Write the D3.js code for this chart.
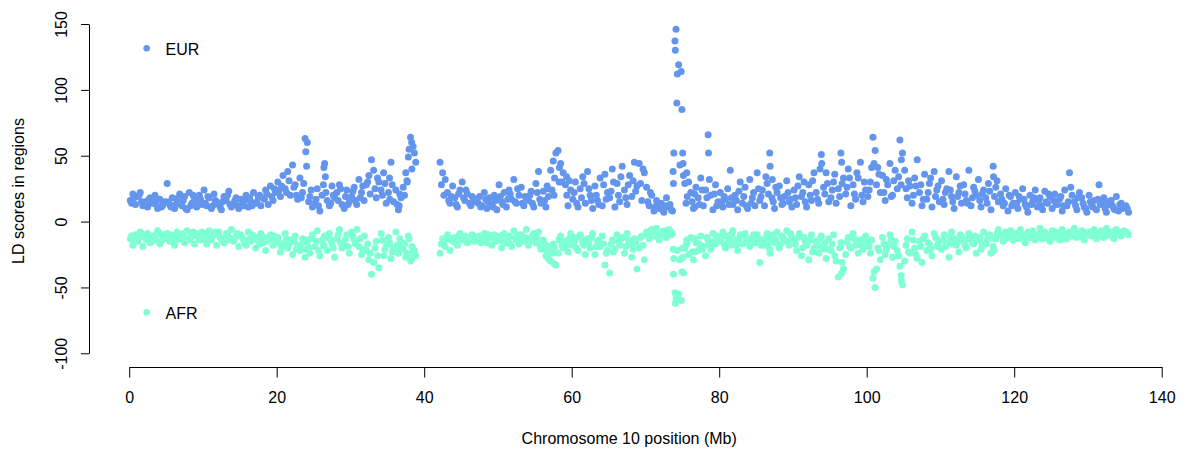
<!DOCTYPE html>
<html>
<head>
<meta charset="utf-8">
<script src="https://cdn.jsdelivr.net/npm/d3@7"></script>
<style>
  body { margin: 0; background: #fff; }
  svg { display: block; font-family: "Liberation Sans", Arial, Helvetica, sans-serif; }
  .axis path, .axis line { stroke: #000; stroke-width: 1; }
  .axis text { font-size: 16px; fill: #000; }
  .axis-title, .legend-label { font-size: 16px; fill: #000; }
</style>
</head>
<body>
<svg id="ld-plot" width="1186" height="450"></svg>
<script>
// region midpoints (Mb) on chromosome 10
const positions = [
  0.15,0.5,0.85,1.15,1.5,1.85,2.15,2.5,2.85,3.15,3.5,3.85,4.15,4.5,4.85,
  5.15,5.5,5.85,6.15,6.5,6.85,7.15,7.5,7.85,8.15,8.5,8.85,9.15,9.5,9.85,
  10.15,10.5,10.85,11.15,11.5,11.85,12.15,12.5,12.85,13.15,13.5,13.85,14.15,14.5,14.85,
  15.15,15.5,15.85,16.15,16.5,16.85,17.15,17.5,17.85,18.15,18.5,18.85,19.15,19.5,19.85,
  20.15,20.5,20.85,21.15,21.5,21.85,22.15,22.5,22.85,23.15,23.5,23.85,24.15,24.5,24.85,
  25.15,25.5,25.85,26.15,26.5,26.85,27.15,27.5,27.85,28.15,28.5,28.85,29.15,29.5,29.85,
  30.15,30.5,30.85,31.15,31.5,31.85,32.15,32.5,32.85,33.15,33.5,33.85,34.15,34.5,34.85,
  35.15,35.5,35.85,36.15,36.5,36.85,37.15,37.5,37.85,38.15,38.5,38.85,
  42.15,42.5,42.85,43.15,43.5,43.85,44.15,44.5,44.85,
  45.15,45.5,45.85,46.15,46.5,46.85,47.15,47.5,47.85,48.15,48.5,48.85,49.15,49.5,49.85,
  50.15,50.5,50.85,51.15,51.5,51.85,52.15,52.5,52.85,53.15,53.5,53.85,54.15,54.5,54.85,
  55.15,55.5,55.85,56.15,56.5,56.85,57.15,57.5,57.85,58.15,58.5,58.85,59.15,59.5,59.85,
  60.15,60.5,60.85,61.15,61.5,61.85,62.15,62.5,62.85,63.15,63.5,63.85,64.15,64.5,64.85,
  65.15,65.5,65.85,66.15,66.5,66.85,67.15,67.5,67.85,68.15,68.5,68.85,69.15,69.5,69.85,
  70.15,70.5,70.85,71.15,71.5,71.85,72.15,72.5,72.85,73.15,73.5,73.85,74.15,74.5,74.85,
  75.15,75.5,75.85,76.15,76.5,76.85,77.15,77.5,77.85,78.15,78.5,78.85,79.15,79.5,79.85,
  80.15,80.5,80.85,81.15,81.5,81.85,82.15,82.5,82.85,83.15,83.5,83.85,84.15,84.5,84.85,
  85.15,85.5,85.85,86.15,86.5,86.85,87.15,87.5,87.85,88.15,88.5,88.85,89.15,89.5,89.85,
  90.15,90.5,90.85,91.15,91.5,91.85,92.15,92.5,92.85,93.15,93.5,93.85,94.15,94.5,94.85,
  95.15,95.5,95.85,96.15,96.5,96.85,97.15,97.5,97.85,98.15,98.5,98.85,99.15,99.5,99.85,
  100.15,100.5,100.85,101.15,101.5,101.85,102.15,102.5,102.85,103.15,103.5,103.85,104.15,104.5,104.85,
  105.15,105.5,105.85,106.15,106.5,106.85,107.15,107.5,107.85,108.15,108.5,108.85,109.15,109.5,109.85,
  110.15,110.5,110.85,111.15,111.5,111.85,112.15,112.5,112.85,113.15,113.5,113.85,114.15,114.5,114.85,
  115.15,115.5,115.85,116.15,116.5,116.85,117.15,117.5,117.85,118.15,118.5,118.85,119.15,119.5,119.85,
  120.15,120.5,120.85,121.15,121.5,121.85,122.15,122.5,122.85,123.15,123.5,123.85,124.15,124.5,124.85,
  125.15,125.5,125.85,126.15,126.5,126.85,127.15,127.5,127.85,128.15,128.5,128.85,129.15,129.5,129.85,
  130.15,130.5,130.85,131.15,131.5,131.85,132.15,132.5,132.85,133.15,133.5,133.85,134.15,134.5,134.85,
  135.15,135.5,
  // single regions near the peaks
  23.95,24.05,26.4,26.6,35.3,36.6,37.7,37.95,38.3,56.8,57.6,58.3,59.3,73.75,73.8,74.0,
  74.05,74.25,74.95,75.05,75.1,75.6,76.7,78.55,86.9,87.2,93.9,96.6,101.0,104.7,117.2,
  // in-between regions
  0.33,0.67,1.33,1.67,2.33,2.67,3.33,3.67,4.33,4.67,
  5.33,5.67,6.33,6.67,7.33,7.67,8.33,8.67,9.33,9.67,
  10.33,10.67,11.33,11.67,12.33,12.67,13.33,13.67,14.33,14.67,
  15.33,15.67,16.33,16.67,17.33,17.67,18.33,18.67,19.33,19.67,
  20.33,20.67,21.33,21.67,22.33,22.67,23.33,23.67,24.33,24.67,
  25.33,25.67,26.33,26.67,27.33,27.67,28.33,28.67,29.33,29.67,
  30.33,30.67,31.33,31.67,32.33,32.67,33.33,33.67,34.33,34.67,
  35.33,35.67,36.33,36.67,37.33,37.67,38.33,38.67,
  42.33,42.67,43.33,43.67,44.33,44.67,
  45.33,45.67,46.33,46.67,47.33,47.67,48.33,48.67,49.33,49.67,
  50.33,50.67,51.33,51.67,52.33,52.67,53.33,53.67,54.33,54.67,
  55.33,55.67,56.33,56.67,57.33,57.67,58.33,58.67,59.33,59.67,
  60.33,60.67,61.33,61.67,62.33,62.67,63.33,63.67,64.33,64.67,
  65.33,65.67,66.33,66.67,67.33,67.67,68.33,68.67,69.33,69.67,
  70.33,70.67,71.33,71.67,72.33,72.67,73.33,73.67,74.33,74.67,
  75.33,75.67,76.33,76.67,77.33,77.67,78.33,78.67,79.33,79.67,
  80.33,80.67,81.33,81.67,82.33,82.67,83.33,83.67,84.33,84.67,
  85.33,85.67,86.33,86.67,87.33,87.67,88.33,88.67,89.33,89.67,
  90.33,90.67,91.33,91.67,92.33,92.67,93.33,93.67,94.33,94.67,
  95.33,95.67,96.33,96.67,97.33,97.67,98.33,98.67,99.33,99.67,
  100.33,100.67,101.33,101.67,102.33,102.67,103.33,103.67,104.33,104.67,
  105.33,105.67,106.33,106.67,107.33,107.67,108.33,108.67,109.33,109.67,
  110.33,110.67,111.33,111.67,112.33,112.67,113.33,113.67,114.33,114.67,
  115.33,115.67,116.33,116.67,117.33,117.67,118.33,118.67,119.33,119.67,
  120.33,120.67,121.33,121.67,122.33,122.67,123.33,123.67,124.33,124.67,
  125.33,125.67,126.33,126.67,127.33,127.67,128.33,128.67,129.33,129.67,
  130.33,130.67,131.33,131.67,132.33,132.67,133.33,133.67,134.33,134.67,
  135.33
];

const eurScores = [
  16,21,13,19,22,12,15,11,18,14,20,10,17,12,15,
  29,13,18,10,16,21,12,19,9,22,14,17,11,20,13,
  24,12,18,10,21,15,13,9,19,16,23,11,14,18,10,
  17,12,20,11,15,22,14,19,12,18,24,13,27,16,22,
  30,19,35,25,38,20,43,28,17,33,22,63,60,19,11,
  14,25,8,20,44,16,12,27,18,22,28,13,10,24,15,
  19,26,13,32,22,16,28,35,47,39,18,30,24,37,14,
  22,45,15,24,9,18,26,37,49,64,57,45,
  45,37,32,22,14,27,18,11,24,
  30,16,21,14,19,17,16,19,12,22,10,18,13,20,9,
  28,15,22,11,24,17,32,14,20,26,12,18,16,23,11,
  29,38,14,23,11,19,39,46,52,54,44,37,28,12,24,
  17,30,11,25,34,14,38,20,10,27,16,33,12,36,22,
  18,40,11,29,15,42,24,13,35,19,45,27,44,16,37,
  26,12,20,8,16,10,14,7,18,11,9,52,146,119,114,
  35,14,30,22,10,26,18,33,12,24,66,20,9,28,15,
  22,11,17,25,39,13,20,9,30,14,26,10,32,18,12,
  37,16,24,12,29,52,18,10,22,27,13,19,31,15,11,
  24,13,34,19,30,11,28,16,37,22,14,51,26,37,15,
  18,30,14,25,52,33,21,40,12,28,17,33,45,15,24,
  19,30,64,54,41,22,35,16,28,44,20,39,25,62,52,
  39,18,27,14,33,47,22,12,36,17,29,11,38,24,15,
  31,13,25,38,19,10,34,22,14,28,16,39,12,26,20,
  32,11,24,18,29,9,42,26,15,21,12,25,8,19,14,
  22,10,17,25,13,7,20,15,24,11,18,9,23,14,19,
  10,21,13,17,8,24,12,37,20,15,9,22,18,11,7,
  20,12,16,9,28,14,18,7,13,16,10,19,8,14,11,
  12,7,
  53,42,41,34,33,12,30,55,60,25,20,30,34,38,29,137,
  130,90,85,52,44,37,11,52,42,32,44,45,44,47,34,
  14,18,20,15,12,17,16,13,11,14,
  15,11,13,18,16,10,12,20,15,17,
  14,19,12,16,11,15,20,13,16,12,
  13,16,18,12,15,20,17,21,19,25,
  24,27,22,31,26,20,18,29,15,24,
  17,12,28,22,14,20,16,25,19,13,
  23,16,18,27,30,21,25,33,20,29,
  17,28,13,21,20,31,40,52,
  28,20,16,19,13,21,
  18,24,12,15,14,11,17,15,11,16,
  19,13,17,21,15,25,14,19,20,14,
  22,17,16,27,24,33,41,30,20,31,
  22,14,18,29,25,16,20,13,28,17,
  23,30,20,34,18,28,31,23,29,40,
  15,22,11,13,9,12,13,8,112,43,
  29,19,15,21,13,24,18,32,21,12,
  15,19,13,18,16,23,19,12,14,22,
  25,19,34,21,15,26,18,14,22,17,
  18,27,22,15,20,31,17,40,21,29,
  24,36,19,29,26,33,21,37,20,30,
  24,41,28,36,22,32,19,31,34,28,
  25,31,20,27,28,17,22,33,19,27,
  17,22,24,15,19,27,21,14,18,23,
  16,21,14,23,19,31,17,14,20,12,
  14,19,17,11,13,18,16,12,15,21,
  16,13,19,12,15,26,12,18,14,10,
  15,11,17,13,10,15,12,9,13,10,
  10
];

const afrScores = [
  -13,-18,-10,-15,-8,-19,-12,-9,-16,-11,-14,-7,-17,-10,-13,
  -9,-15,-11,-18,-8,-13,-10,-16,-7,-14,-11,-17,-9,-13,-8,
  -12,-17,-7,-14,-10,-18,-8,-13,-16,-9,-12,-6,-15,-11,-19,
  -10,-14,-18,-8,-15,-11,-20,-12,-9,-16,-22,-13,-10,-18,-14,
  -12,-23,-17,-9,-20,-14,-25,-11,-18,-22,-13,-27,-16,-24,-10,
  -19,-7,-26,-14,-11,-22,-9,-17,-27,-13,-6,-20,-16,-10,-24,
  -8,-14,-6,-19,-25,-11,-22,-29,-40,-31,-15,-35,-9,-26,-17,
  -12,-28,-20,-8,-24,-15,-21,-27,-11,-30,-23,-26,
  -24,-13,-19,-10,-22,-15,-12,-18,-9,
  -14,-11,-16,-12,-10,-15,-13,-11,-14,-9,-16,-12,-18,-10,-15,
  -13,-20,-9,-16,-11,-19,-7,-14,-17,-10,-15,-6,-18,-12,-9,
  -16,-8,-21,-14,-26,-19,-30,-17,-33,-24,-11,-20,-15,-23,-9,
  -18,-12,-22,-10,-16,-25,-13,-20,-9,-25,-15,-19,-11,-33,-22,
  -39,-14,-21,-10,-18,-12,-24,-9,-17,-27,-13,-36,-20,-11,-29,
  -8,-13,-6,-11,-5,-14,-9,-7,-12,-6,-10,-28,-58,-55,-60,
  -39,-18,-25,-12,-29,-16,-22,-11,-19,-26,-14,-21,-9,-17,-13,
  -15,-8,-20,-11,-18,-7,-14,-22,-10,-17,-9,-13,-19,-12,-16,
  -10,-31,-14,-18,-9,-21,-13,-16,-8,-20,-11,-15,-7,-18,-12,
  -14,-22,-9,-26,-12,-18,-29,-10,-20,-15,-24,-11,-19,-28,-13,
  -22,-10,-30,-42,-16,-36,-25,-12,-20,-9,-18,-24,-14,-21,-11,
  -16,-24,-43,-50,-20,-29,-12,-25,-18,-10,-27,-15,-22,-34,-48,
  -30,-13,-24,-8,-20,-28,-15,-31,-11,-22,-17,-26,-9,-19,-14,
  -21,-10,-16,-27,-8,-13,-18,-23,-11,-15,-20,-9,-12,-17,-24,
  -14,-21,-8,-17,-11,-24,-19,-13,-6,-10,-15,-8,-12,-7,-14,
  -9,-13,-6,-11,-16,-8,-12,-7,-14,-10,-5,-13,-8,-11,-15,
  -7,-12,-9,-14,-6,-10,-13,-8,-11,-5,-12,-9,-7,-14,-10,
  -8,-11,-6,-13,-9,-7,-12,-5,-10,-8,-13,-6,-9,-11,-7,
  -8,-10,
  -21,-14,-18,-12,-17,-19,-25,-13,-28,-28,-32,-13,-18,-21,-40,-54,
  -62,-57,-38,-20,-27,-14,-23,-17,-24,-12,-21,-39,-38,-45,-22,
  -11,-15,-12,-9,-14,-11,-13,-10,-15,-12,
  -12,-10,-14,-11,-9,-13,-12,-8,-11,-14,
  -9,-13,-11,-8,-12,-15,-10,-14,-13,-9,
  -12,-16,-13,-10,-14,-17,-12,-15,-13,-11,
  -16,-19,-13,-17,-15,-21,-18,-14,-20,-13,
  -15,-22,-18,-12,-14,-20,-10,-16,-13,-19,
  -11,-17,-13,-21,-17,-24,-20,-26,-14,-21,
  -16,-23,-18,-13,-17,-24,-19,-22,
  -17,-15,-12,-14,-16,-11,
  -12,-15,-14,-11,-12,-16,-13,-10,-12,-14,
  -11,-15,-13,-17,-12,-10,-14,-12,-15,-11,
  -13,-18,-17,-22,-24,-20,-14,-18,-17,-13,
  -15,-20,-13,-18,-16,-12,-19,-14,-17,-24,
  -17,-23,-15,-13,-19,-14,-21,-16,-12,-18,
  -10,-7,-9,-12,-8,-11,-7,-9,-22,-29,
  -20,-15,-23,-13,-17,-21,-12,-18,-15,-11,
  -12,-17,-14,-10,-18,-13,-11,-15,-14,-10,
  -13,-18,-12,-16,-10,-14,-17,-12,-15,-9,
  -17,-12,-20,-15,-14,-23,-18,-13,-16,-21,
  -17,-26,-20,-31,-15,-19,-13,-17,-18,-15,
  -19,-14,-36,-22,-17,-21,-14,-19,-26,-41,
  -18,-23,-14,-25,-19,-13,-16,-21,-12,-17,
  -14,-19,-12,-17,-15,-10,-18,-13,-16,-11,
  -12,-17,-14,-10,-13,-9,-11,-13,-9,-11,
  -11,-8,-13,-10,-9,-12,-11,-8,-10,-13,
  -10,-8,-11,-13,-9,-11,-8,-10,-12,-9,
  -10,-7,-9,-11,-8,-10,-11,-7,-10,-8,
  -9
];

const xTicks = [0, 20, 40, 60, 80, 100, 120, 140];
const yTicks = [-100, -50, 0, 50, 100, 150];
const seriesNames = ["EUR", "AFR"];
const seriesColors = ["#6495ED", "#7FFFD4"];

const svg = d3.select("#ld-plot");

if (positions.length !== eurScores.length || positions.length !== afrScores.length) {
  console.warn("length mismatch", positions.length, eurScores.length, afrScores.length);
}

const x = d3.scaleLinear().domain([0, 140]).range([129.2, 1161.7]);
const y = d3.scaleLinear().domain([-100, 150]).range([353.3, 24]);

const xAxisY = 367;
const yAxisX = 89;

const xAxis = svg.append("g")
  .attr("class", "axis")
  .attr("transform", `translate(0,${xAxisY})`)
  .call(d3.axisBottom(x).tickValues(xTicks).tickSize(10.5).tickSizeOuter(0).tickFormat(d => String(d)));
xAxis.selectAll("text").attr("y", 36).attr("dy", 0);

const yAxis = svg.append("g")
  .attr("class", "axis")
  .attr("transform", `translate(${yAxisX},0)`)
  .call(d3.axisLeft(y).tickValues(yTicks).tickSize(8).tickSizeOuter(0).tickFormat(d => String(d)));
yAxis.selectAll("text")
  .attr("x", 0)
  .attr("dy", 0)
  .attr("text-anchor", "middle")
  .attr("transform", "translate(-22,0) rotate(-90)");

// points
const eurPoints = positions.map((p, i) => ({ pos: p, score: eurScores[i] }));
const afrPoints = positions.map((p, i) => ({ pos: p, score: afrScores[i] }));

[eurPoints, afrPoints].forEach((pts, k) => {
  svg.append("g")
    .selectAll("circle")
    .data(pts)
    .join("circle")
    .attr("cx", d => x(d.pos))
    .attr("cy", d => y(d.score))
    .attr("r", 3.5)
    .attr("fill", seriesColors[k]);
});

// legend labels in the plot corners
const legendY = [48.3, 312.3];
seriesNames.forEach((name, k) => {
  svg.append("circle")
    .attr("cx", 146.7)
    .attr("cy", legendY[k])
    .attr("r", 3.3)
    .attr("fill", seriesColors[k]);
  svg.append("text")
    .attr("class", "legend-label")
    .attr("x", 165.5)
    .attr("y", legendY[k] + 6.5)
    .text(name);
});

svg.append("text")
  .attr("class", "axis-title")
  .attr("x", x(67.8))
  .attr("y", 444)
  .attr("text-anchor", "middle")
  .text("Chromosome 10 position (Mb)");

svg.append("text")
  .attr("class", "axis-title")
  .attr("text-anchor", "middle")
  .attr("transform", "translate(24,191) rotate(-90)")
  .text("LD scores in regions");
</script>
</body>
</html>
